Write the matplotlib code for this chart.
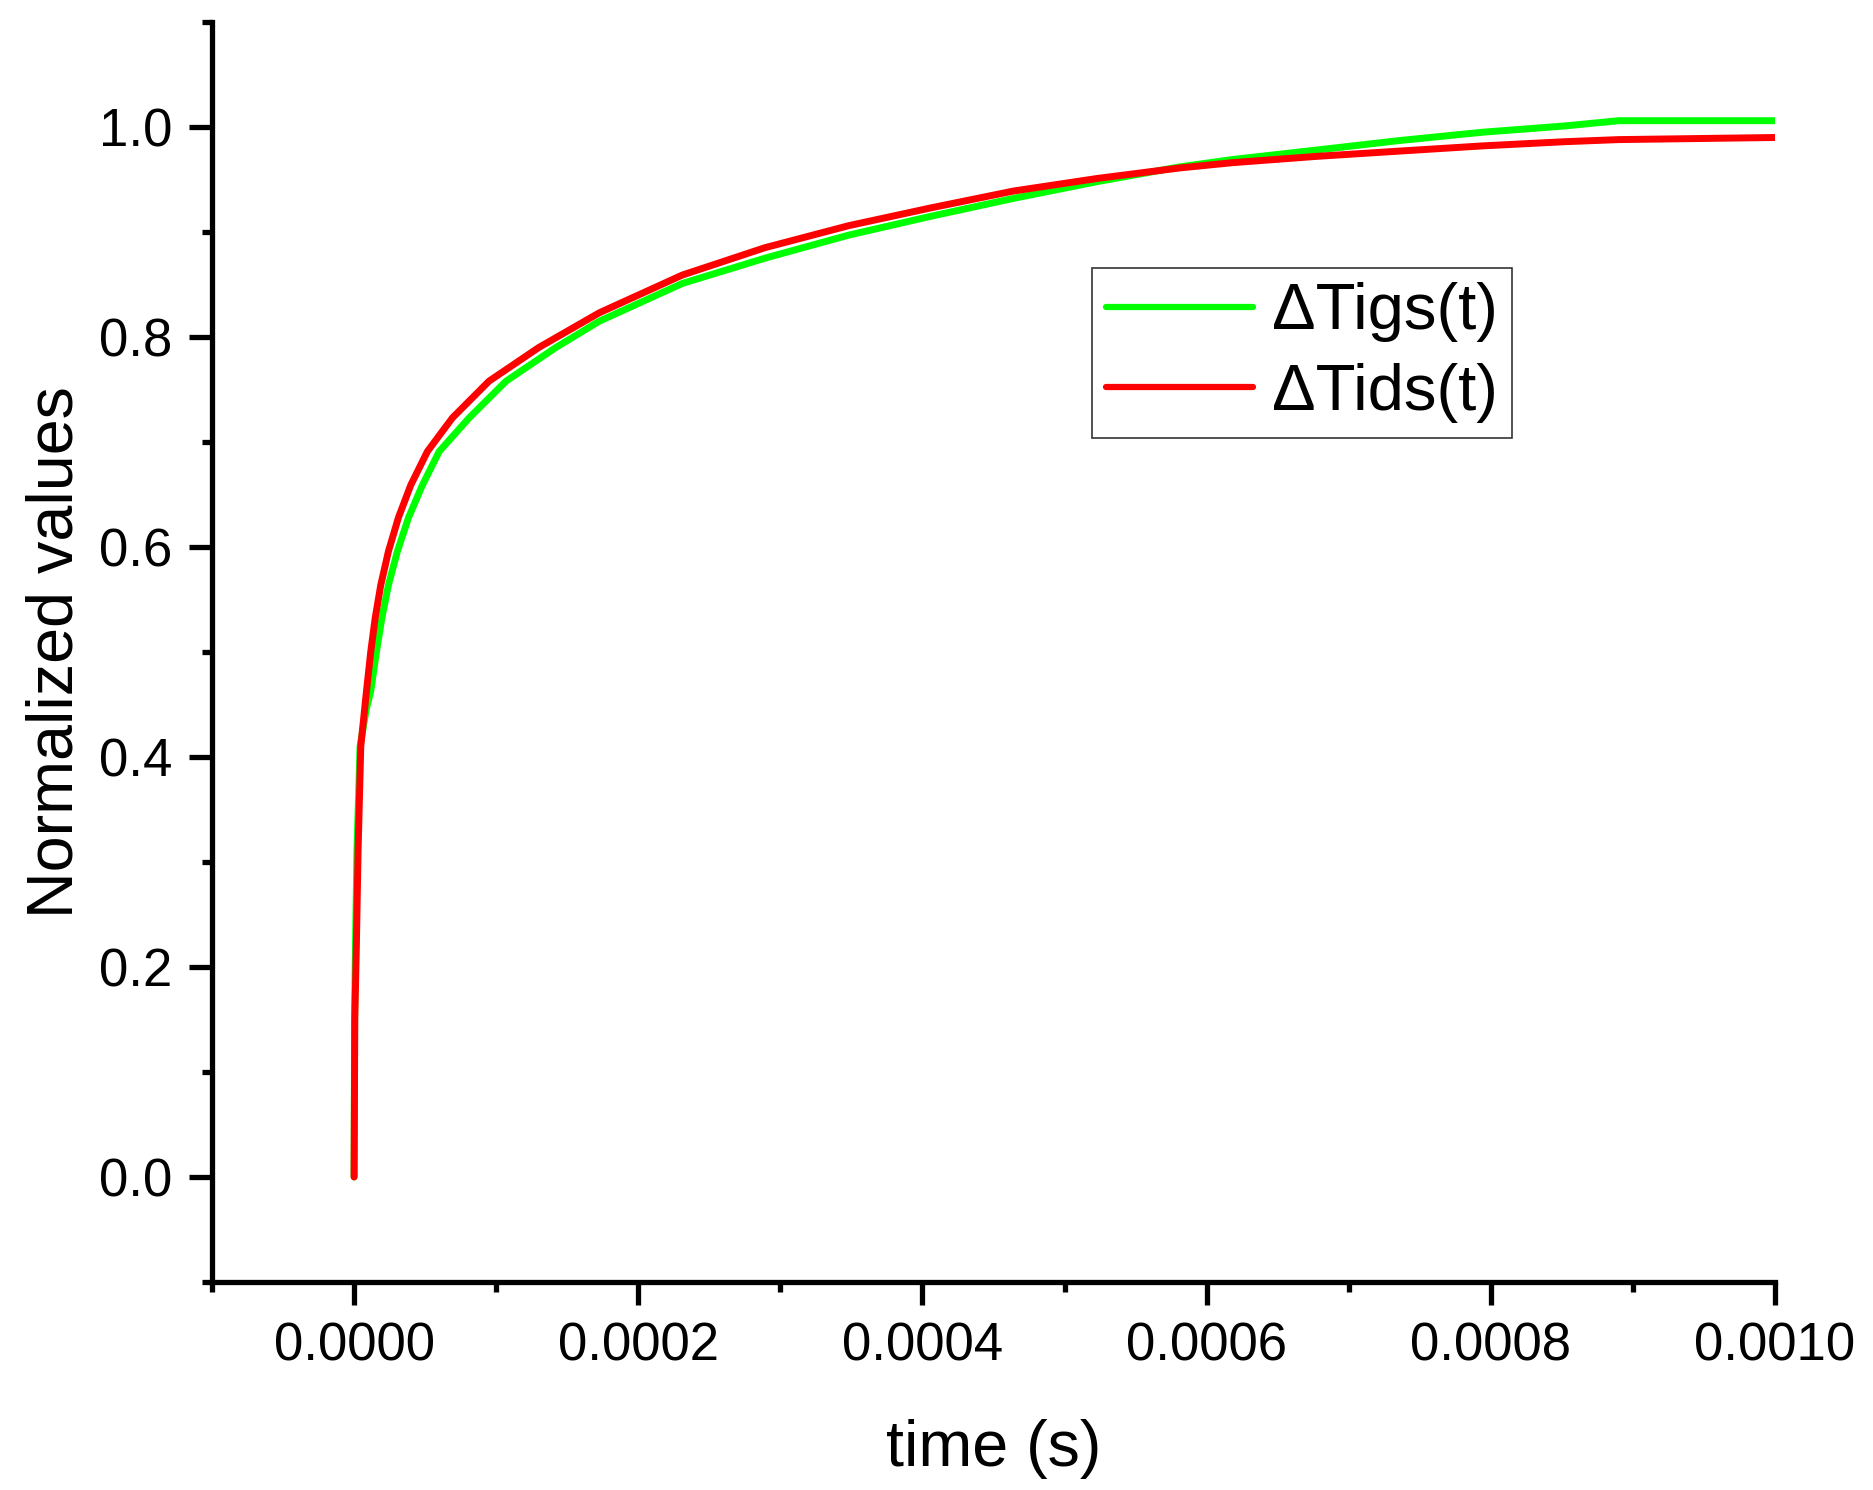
import matplotlib
matplotlib.use("Agg")
import matplotlib.pyplot as plt
from matplotlib.ticker import FormatStrFormatter

plt.rcParams['font.family'] = ['Liberation Sans', 'DejaVu Sans']

# data (time in s, normalized value)
t_igs = [0, 0.0000004, 0.0000010, 0.0000020, 0.0000042, 0.0000085, 0.0000117,
         0.0000157, 0.0000195, 0.0000242, 0.0000305, 0.0000383, 0.0000481,
         0.0000599, 0.000081, 0.000107, 0.000142, 0.0001725, 0.000231,
         0.000289, 0.000348, 0.000406, 0.000464, 0.000523, 0.000581,
         0.000618, 0.000677, 0.000735, 0.000794, 0.000852, 0.00089, 0.001]
v_igs = [0.0, 0.16, 0.22, 0.31, 0.41, 0.445, 0.4625,
         0.500, 0.532, 0.564, 0.596, 0.628, 0.659,
         0.691, 0.723, 0.758, 0.790, 0.815, 0.851,
         0.875, 0.897, 0.915, 0.932, 0.948, 0.962,
         0.969, 0.978, 0.987, 0.995, 1.001, 1.006, 1.006]

t_ids = [0, 0.0000005, 0.0000016, 0.0000028, 0.0000047, 0.0000087,
         0.0000117, 0.0000148, 0.0000188, 0.0000242, 0.0000312, 0.0000399,
         0.0000516, 0.0000692, 0.000095, 0.000130, 0.0001725, 0.000231,
         0.000289, 0.000348, 0.000406, 0.000464, 0.000523, 0.000581,
         0.000618, 0.000677, 0.000735, 0.000794, 0.000852, 0.00089, 0.001]
v_ids = [0.0, 0.15, 0.22, 0.31, 0.41, 0.4625,
         0.500, 0.532, 0.564, 0.596, 0.628, 0.659,
         0.691, 0.723, 0.758, 0.790, 0.823, 0.859,
         0.885, 0.906, 0.923, 0.939, 0.951, 0.961,
         0.966, 0.972, 0.977, 0.982, 0.986, 0.988, 0.990]

x_ticks = [0.0, 0.0002, 0.0004, 0.0006, 0.0008, 0.0010]
x_minor = [-0.0001, 0.0001, 0.0003, 0.0005, 0.0007, 0.0009]
y_ticks = [0.0, 0.2, 0.4, 0.6, 0.8, 1.0]
y_minor = [-0.1, 0.1, 0.3, 0.5, 0.7, 0.9, 1.1]

W, H = 1874, 1490
fig = plt.figure(figsize=(W / 100, H / 100), dpi=100)
ax = fig.add_axes([212 / W, 1 - 1282 / H, (1775 - 212) / W, (1282 - 22) / H])

ax.plot(t_igs, v_igs, color='#00ff00', lw=5, label='ΔTigs(t)', solid_capstyle='round')
ax.plot(t_ids, v_ids, color='#ff0000', lw=5, label='ΔTids(t)', solid_capstyle='round')

ax.set_xlim(-0.0001, 0.0010)
ax.set_ylim(-0.1, 1.1)
ax.set_xticks(x_ticks)
ax.set_yticks(y_ticks)
ax.set_xticks(x_minor, minor=True)
ax.set_yticks(y_minor, minor=True)
ax.xaxis.set_major_formatter(FormatStrFormatter('%.4f'))
ax.yaxis.set_major_formatter(FormatStrFormatter('%.1f'))

for side in ['top', 'right']:
    ax.spines[side].set_visible(False)
for side in ['left', 'bottom']:
    ax.spines[side].set_linewidth(3.8)

ax.tick_params(which='major', direction='out', length=16.5, width=3.8, labelsize=38, pad=12)
ax.tick_params(which='minor', direction='out', length=7.5, width=3.8)

ax.set_xlabel('time (s)', fontsize=46.5, labelpad=34)
ax.set_ylabel('Normalized values', fontsize=46.5, labelpad=10)

leg = ax.legend(loc='upper left', bbox_to_anchor=(1092 / W, 1 - 268 / H),
                bbox_transform=fig.transFigure, fontsize=47, frameon=True,
                fancybox=False, handlelength=2.25, handletextpad=0.28,
                labelspacing=0.32, borderpad=0.22, borderaxespad=0)
leg.get_frame().set_edgecolor('black')
leg.get_frame().set_linewidth(1.2)
for line in leg.get_lines():
    line.set_linewidth(4.5)

fig.savefig('out.png', dpi=100)
